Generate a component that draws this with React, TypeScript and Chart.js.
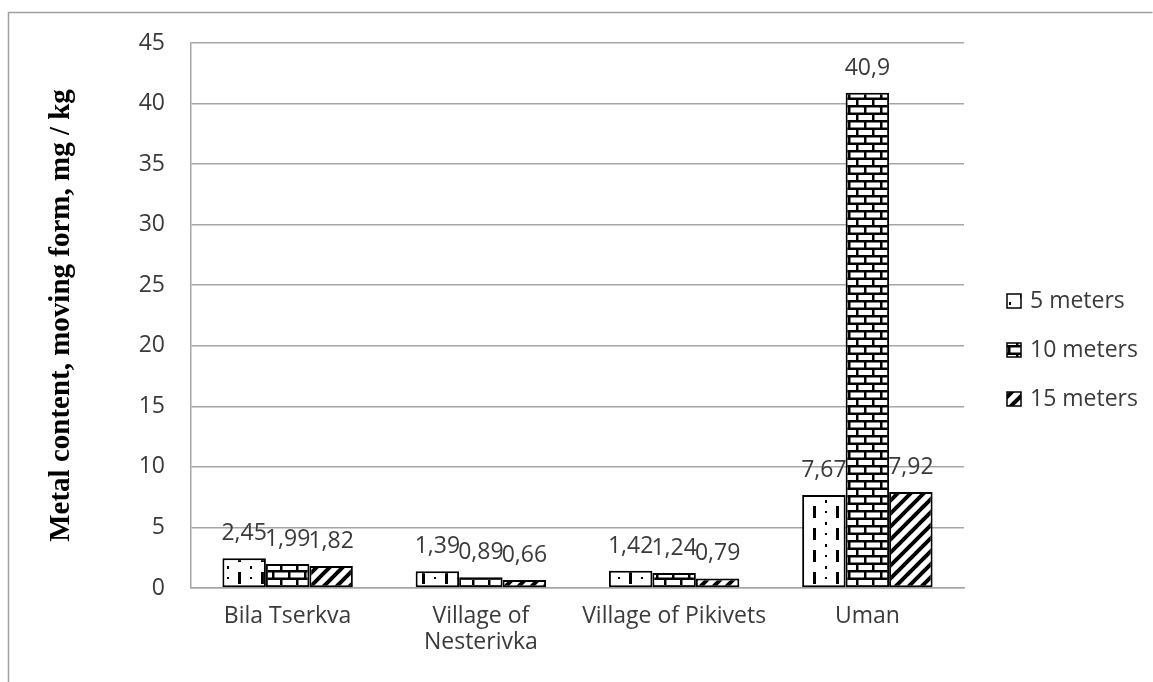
import React, { useEffect, useRef } from 'react';
import { Chart, registerables } from 'chart.js';

Chart.register(...registerables);

const categories: (string | string[])[] = ['Bila Tserkva', ['Village of', 'Nesterivka'], 'Village of Pikivets', 'Uman'];
const seriesNames = ['5 meters', '10 meters', '15 meters'];
const values5m = [2.45, 1.39, 1.42, 7.67];
const values10m = [1.99, 0.89, 1.24, 40.9];
const values15m = [1.82, 0.66, 0.79, 7.92];
const yMin = 0;
const yMax = 45;
const yStep = 5;
const yTitle = 'Metal content, moving form, mg / kg';

const FONT = "'Open Sans', 'Liberation Sans', sans-serif";
const TEXT_COLOR = '#3a3a3a';
const GRID_COLOR = '#a6a6a6';

function makeTile(w: number, h: number, draw: (c: CanvasRenderingContext2D) => void): CanvasPattern {
  const cv = document.createElement('canvas');
  cv.width = w;
  cv.height = h;
  const c = cv.getContext('2d')!;
  draw(c);
  return c.createPattern(cv, 'repeat')!;
}

function dashedPattern() {
  return makeTile(23, 22, (c) => {
    c.fillStyle = '#fff';
    c.fillRect(0, 0, 23, 22);
    c.fillStyle = '#000';
    c.fillRect(8, 0, 3, 12);
    c.fillRect(20, 5, 2, 2);
    c.fillRect(20, 16, 2, 3);
  });
}

function brickPattern() {
  return makeTile(16, 15, (c) => {
    c.fillStyle = '#000';
    c.fillRect(0, 0, 16, 15);
    c.fillStyle = '#fff';
    c.fillRect(2.5, 2.5, 13.5, 5);
    c.fillRect(0, 10, 8, 5);
    c.fillRect(10.5, 10, 5.5, 5);
  });
}

function diagonalPattern() {
  return makeTile(13, 13, (c) => {
    c.fillStyle = '#fff';
    c.fillRect(0, 0, 13, 13);
    c.strokeStyle = '#000';
    c.lineWidth = 4;
    c.lineCap = 'square';
    for (let k = -1; k <= 1; k++) {
      c.beginPath();
      c.moveTo(k * 13, 13);
      c.lineTo(k * 13 + 13, 0);
      c.stroke();
    }
  });
}

export default function App() {
  const ref = useRef<HTMLCanvasElement | null>(null);

  useEffect(() => {
    if (!ref.current) return;
    const patterns = [dashedPattern(), brickPattern(), diagonalPattern()];
    const seriesValues = [values5m, values10m, values15m];

    const framePlugin = {
      id: 'frame',
      beforeDraw(chart: any) {
        const ctx = chart.ctx;
        ctx.save();
        ctx.fillStyle = '#fff';
        ctx.fillRect(0, 0, chart.width, chart.height);
        ctx.strokeStyle = '#a0a0a0';
        ctx.lineWidth = 1.5;
        ctx.beginPath();
        ctx.moveTo(8.5, chart.height + 2);
        ctx.lineTo(8.5, 12.5);
        ctx.lineTo(chart.width - 0.5, 12.5);
        ctx.stroke();
        ctx.restore();
      },
    };

    const labelsPlugin = {
      id: 'valueLabels',
      afterDatasetsDraw(chart: any) {
        const ctx = chart.ctx;
        ctx.save();
        ctx.font = `23px ${FONT}`;
        ctx.fillStyle = TEXT_COLOR;
        ctx.textAlign = 'center';
        ctx.textBaseline = 'alphabetic';
        chart.data.datasets.forEach((ds: any, i: number) => {
          const meta = chart.getDatasetMeta(i);
          meta.data.forEach((bar: any, j: number) => {
            const v = ds.data[j];
            ctx.fillText(String(v).replace('.', ','), bar.x, bar.y - 18);
          });
        });
        ctx.restore();
      },
    };

    const extrasPlugin = {
      id: 'extras',
      afterDraw(chart: any) {
        const ctx = chart.ctx;
        const area = chart.chartArea;
        // y-axis title
        ctx.save();
        ctx.translate(62, (area.top + area.bottom) / 2);
        ctx.rotate(-Math.PI / 2);
        ctx.font = "bold 29px 'Liberation Serif', 'DejaVu Serif', serif";
        ctx.fillStyle = '#000';
        ctx.textAlign = 'center';
        ctx.textBaseline = 'middle';
        ctx.fillText(yTitle, 0, 0);
        ctx.restore();
        // legend
        ctx.save();
        const ys = [301, 350, 399];
        seriesNames.forEach((name, i) => {
          const bx = 1007;
          const by = ys[i] - 7;
          ctx.fillStyle = patterns[i];
          ctx.fillRect(bx, by, 14, 14);
          ctx.strokeStyle = '#000';
          ctx.lineWidth = 1.5;
          ctx.strokeRect(bx, by, 14, 14);
          ctx.fillStyle = TEXT_COLOR;
          ctx.font = `23px ${FONT}`;
          ctx.textAlign = 'left';
          ctx.textBaseline = 'middle';
          ctx.fillText(name, 1030, ys[i]);
        });
        ctx.restore();
      },
    };

    const chart = new Chart(ref.current, {
      type: 'bar',
      data: {
        labels: categories,
        datasets: seriesNames.map((name, i) => ({
          label: name,
          data: seriesValues[i],
          backgroundColor: patterns[i],
          borderColor: '#000',
          borderWidth: 2,
          borderSkipped: false,
          barPercentage: 1,
          categoryPercentage: 0.675,
        })),
      },
      options: {
        responsive: false,
        animation: false,
        devicePixelRatio: 1,
        layout: { padding: { left: 0, right: 189, top: 43, bottom: 0 } },
        plugins: {
          legend: { display: false },
          tooltip: { enabled: false },
        },
        scales: {
          x: {
            grid: { display: false, drawTicks: false },
            border: { display: true, color: GRID_COLOR, width: 1.5 },
            ticks: {
              color: TEXT_COLOR,
              font: { family: FONT, size: 23, lineHeight: 1.13 },
              padding: 15,
              maxRotation: 0,
              autoSkip: false,
            },
            afterFit(scale: any) {
              scale.height = 94;
            },
          },
          y: {
            min: yMin,
            max: yMax,
            grid: { color: GRID_COLOR, lineWidth: 1.5, drawTicks: false },
            border: { display: true, color: GRID_COLOR, width: 1.5 },
            ticks: {
              stepSize: yStep,
              color: TEXT_COLOR,
              font: { family: FONT, size: 23 },
              padding: 26,
            },
            afterFit(scale: any) {
              scale.width = 191;
            },
          },
        },
      },
      plugins: [framePlugin, labelsPlugin, extrasPlugin],
    } as any);

    return () => chart.destroy();
  }, []);

  return (
    <div style={{ position: 'fixed', left: 0, top: 0, width: 1153, height: 682, background: '#fff' }}>
      <canvas ref={ref} width={1153} height={682} style={{ display: 'block' }} />
    </div>
  );
}
